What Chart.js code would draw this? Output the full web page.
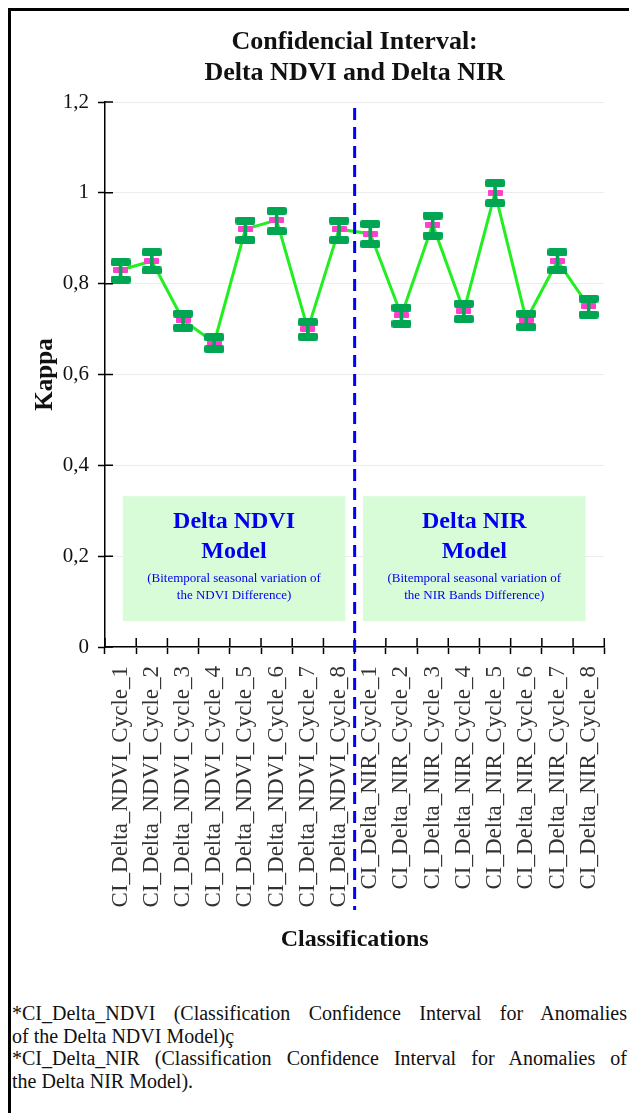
<!DOCTYPE html>
<html>
<head>
<meta charset="utf-8">
<script src="https://cdn.jsdelivr.net/npm/chart.js@4.4.1/dist/chart.umd.min.js"></script>
<style>
  html, body { margin: 0; padding: 0; background: #fff; overflow: hidden; }
  body { width: 629px; height: 1113px; position: relative; font-family: "Liberation Serif", "Times New Roman", serif; }
  #frame { position: absolute; left: 8px; top: 8px; width: 700px; height: 1200px; border-left: 3px solid #000; border-top: 3px solid #000; }
  #chart { position: absolute; left: 0; top: 0; }
  #notes { position: absolute; left: 12px; top: 1002px; width: 615px; font-size: 20px; line-height: 22.5px; color: #111; }
  #notes div { white-space: nowrap; }
  #notes .j { text-align: justify; text-align-last: justify; }
</style>
</head>
<body>
<div id="frame"></div>
<canvas id="chart" width="629" height="960"></canvas>
<div id="notes">
  <div class="j">*CI_Delta_NDVI (Classification Confidence Interval for Anomalies</div>
  <div>of the Delta NDVI Model)ç</div>
  <div class="j">*CI_Delta_NIR (Classification Confidence Interval for Anomalies of</div>
  <div>the Delta NIR Model).</div>
</div>
<script>
const categories = [
  "CI_Delta_NDVI_Cycle_1", "CI_Delta_NDVI_Cycle_2", "CI_Delta_NDVI_Cycle_3", "CI_Delta_NDVI_Cycle_4",
  "CI_Delta_NDVI_Cycle_5", "CI_Delta_NDVI_Cycle_6", "CI_Delta_NDVI_Cycle_7", "CI_Delta_NDVI_Cycle_8",
  "CI_Delta_NIR_Cycle_1", "CI_Delta_NIR_Cycle_2", "CI_Delta_NIR_Cycle_3", "CI_Delta_NIR_Cycle_4",
  "CI_Delta_NIR_Cycle_5", "CI_Delta_NIR_Cycle_6", "CI_Delta_NIR_Cycle_7", "CI_Delta_NIR_Cycle_8"
];
const kappa = [0.83, 0.85, 0.72, 0.67, 0.92, 0.94, 0.70, 0.92, 0.91, 0.73, 0.93, 0.74, 1.00, 0.72, 0.85, 0.75];
const upper = [0.847, 0.869, 0.734, 0.682, 0.939, 0.960, 0.715, 0.939, 0.931, 0.747, 0.950, 0.756, 1.021, 0.734, 0.869, 0.767];
const lower = [0.809, 0.829, 0.703, 0.656, 0.896, 0.915, 0.683, 0.896, 0.887, 0.712, 0.906, 0.722, 0.977, 0.704, 0.829, 0.732];
const titleLines = ["Confidencial Interval:", "Delta NDVI and Delta NIR"];

Chart.defaults.font.family = '"Liberation Serif", "Times New Roman", serif';

// little canvases used as point styles
function markCanvas(w, h, color, r) {
  const c = document.createElement("canvas");
  c.width = w; c.height = h;
  const g = c.getContext("2d");
  g.fillStyle = color;
  g.beginPath();
  g.roundRect(0, 0, w, h, r);
  g.fill();
  return c;
}
const capMark = markCanvas(20, 8, "#00a651", 2);
const pinkMark = markCanvas(15, 6, "#ff40cc", 1);

// title centred over the plot area
const plotTitle = {
  id: "plotTitle",
  afterDraw(chart) {
    const { ctx, chartArea } = chart;
    const cx = (chartArea.left + chartArea.right) / 2;
    ctx.save();
    ctx.font = 'bold 26px "Liberation Serif"';
    ctx.fillStyle = "#111";
    ctx.textAlign = "center";
    ctx.textBaseline = "middle";
    ctx.fillText(titleLines[0], cx, chartArea.top - 60);
    ctx.fillText(titleLines[1], cx, chartArea.top - 29);
    ctx.restore();
  }
};

// green model boxes
const modelBoxes = {
  id: "modelBoxes",
  beforeDatasetsDraw(chart, args, opts) {
    const { ctx, scales: { x, y } } = chart;
    opts.boxes.forEach(b => {
      const l = x.getPixelForValue(b.from), r = x.getPixelForValue(b.to);
      const t = y.getPixelForValue(b.top), bt = y.getPixelForValue(b.bottom);
      const cx = (l + r) / 2;
      ctx.save();
      ctx.fillStyle = "#d8fcd8";
      ctx.fillRect(l, t, r - l, bt - t);
      ctx.fillStyle = "#0000ee";
      ctx.textAlign = "center";
      ctx.textBaseline = "middle";
      ctx.font = 'bold 24px "Liberation Serif"';
      ctx.fillText(b.title[0], cx, t + 26);
      ctx.fillText(b.title[1], cx, t + 56);
      ctx.font = '13px "Liberation Serif"';
      ctx.fillText(b.note[0], cx, t + 82);
      ctx.fillText(b.note[1], cx, t + 99);
      ctx.restore();
    });
  }
};

// ticks that cross the axis lines
const crossTicks = {
  id: "crossTicks",
  afterDraw(chart) {
    const { ctx, scales: { x, y }, chartArea } = chart;
    ctx.save();
    ctx.strokeStyle = "#000";
    ctx.lineWidth = 1.5;
    ctx.beginPath();
    y.ticks.forEach(t => {
      const py = y.getPixelForValue(t.value);
      ctx.moveTo(chartArea.left, py);
      ctx.lineTo(chartArea.left + 8, py);
    });
    for (let i = 0; i <= categories.length; i++) {
      const px = x.getPixelForValue(i - 0.5);
      ctx.moveTo(px, chartArea.bottom);
      ctx.lineTo(px, chartArea.bottom - 9);
    }
    ctx.stroke();
    ctx.restore();
  }
};

// dashed separator between the two models
const divider = {
  id: "divider",
  afterDraw(chart, args, opts) {
    const { ctx, scales: { x, y }, chartArea } = chart;
    const px = x.getPixelForValue(opts.at);
    ctx.save();
    ctx.strokeStyle = "#0000ff";
    ctx.lineWidth = 3;
    ctx.setLineDash([12, 7]);
    ctx.beginPath();
    ctx.moveTo(px, y.getPixelForValue(opts.top));
    ctx.lineTo(px, chartArea.bottom + opts.below);
    ctx.stroke();
    ctx.restore();
  }
};

new Chart(document.getElementById("chart"), {
  type: "line",
  data: {
    labels: categories,
    datasets: [
      { type: "line", data: kappa, borderColor: "#22ee22", borderWidth: 3, pointRadius: 0, tension: 0, order: 5 },
      { type: "line", data: kappa, showLine: false, pointStyle: pinkMark, pointRadius: 5, order: 4 },
      { type: "bar", data: lower.map((v, i) => [v, upper[i]]), backgroundColor: "#00a651", barThickness: 3, order: 3 },
      { type: "line", data: upper, showLine: false, pointStyle: capMark, pointRadius: 5, order: 2 },
      { type: "line", data: lower, showLine: false, pointStyle: capMark, pointRadius: 5, order: 1 }
    ]
  },
  options: {
    responsive: false,
    animation: false,
    devicePixelRatio: 1,
    layout: { padding: { top: 102, left: 10, right: 23, bottom: 0 } },
    plugins: {
      legend: { display: false },
      tooltip: { enabled: false },
      modelBoxes: {
        boxes: [
          { from: 0.07, to: 7.2, top: 0.332, bottom: 0.057, title: ["Delta NDVI", "Model"],
            note: ["(Bitemporal seasonal variation of", "the NDVI Difference)"] },
          { from: 7.77, to: 14.9, top: 0.332, bottom: 0.057, title: ["Delta NIR", "Model"],
            note: ["(Bitemporal seasonal variation of", "the NIR Bands Difference)"] }
        ]
      },
      divider: { at: 7.5, top: 1.187, below: 263 }
    },
    scales: {
      x: {
        type: "category",
        offset: true,
        grid: { offset: true, drawOnChartArea: false, tickLength: 7, tickColor: "#000", tickWidth: 1.5 },
        border: { color: "#000", width: 1.5 },
        ticks: {
          autoSkip: false, minRotation: 90, maxRotation: 90, padding: 12,
          color: "#333", font: { size: 23 }
        },
        title: {
          display: true, text: "Classifications", color: "#111",
          font: { size: 24, weight: "bold" }, padding: { top: 0, bottom: 6 }
        },
        afterFit(s) { s.height = 313; }
      },
      y: {
        min: 0,
        max: 1.2,
        grid: { color: "#ececec", tickLength: 7, tickColor: "#000", tickWidth: 1.5 },
        border: { color: "#000", width: 1.5 },
        ticks: {
          stepSize: 0.2, padding: 9, color: "#111", font: { size: 21 },
          callback: v => String(Math.round(v * 10) / 10).replace(".", ",")
        },
        title: {
          display: true, text: "Kappa", color: "#111",
          font: { size: 25, weight: "bold" }, padding: { top: 21, bottom: 0 }
        },
        afterFit(s) { s.width = 95; }
      }
    }
  },
  plugins: [modelBoxes, crossTicks, divider, plotTitle]
});
</script>
</body>
</html>
